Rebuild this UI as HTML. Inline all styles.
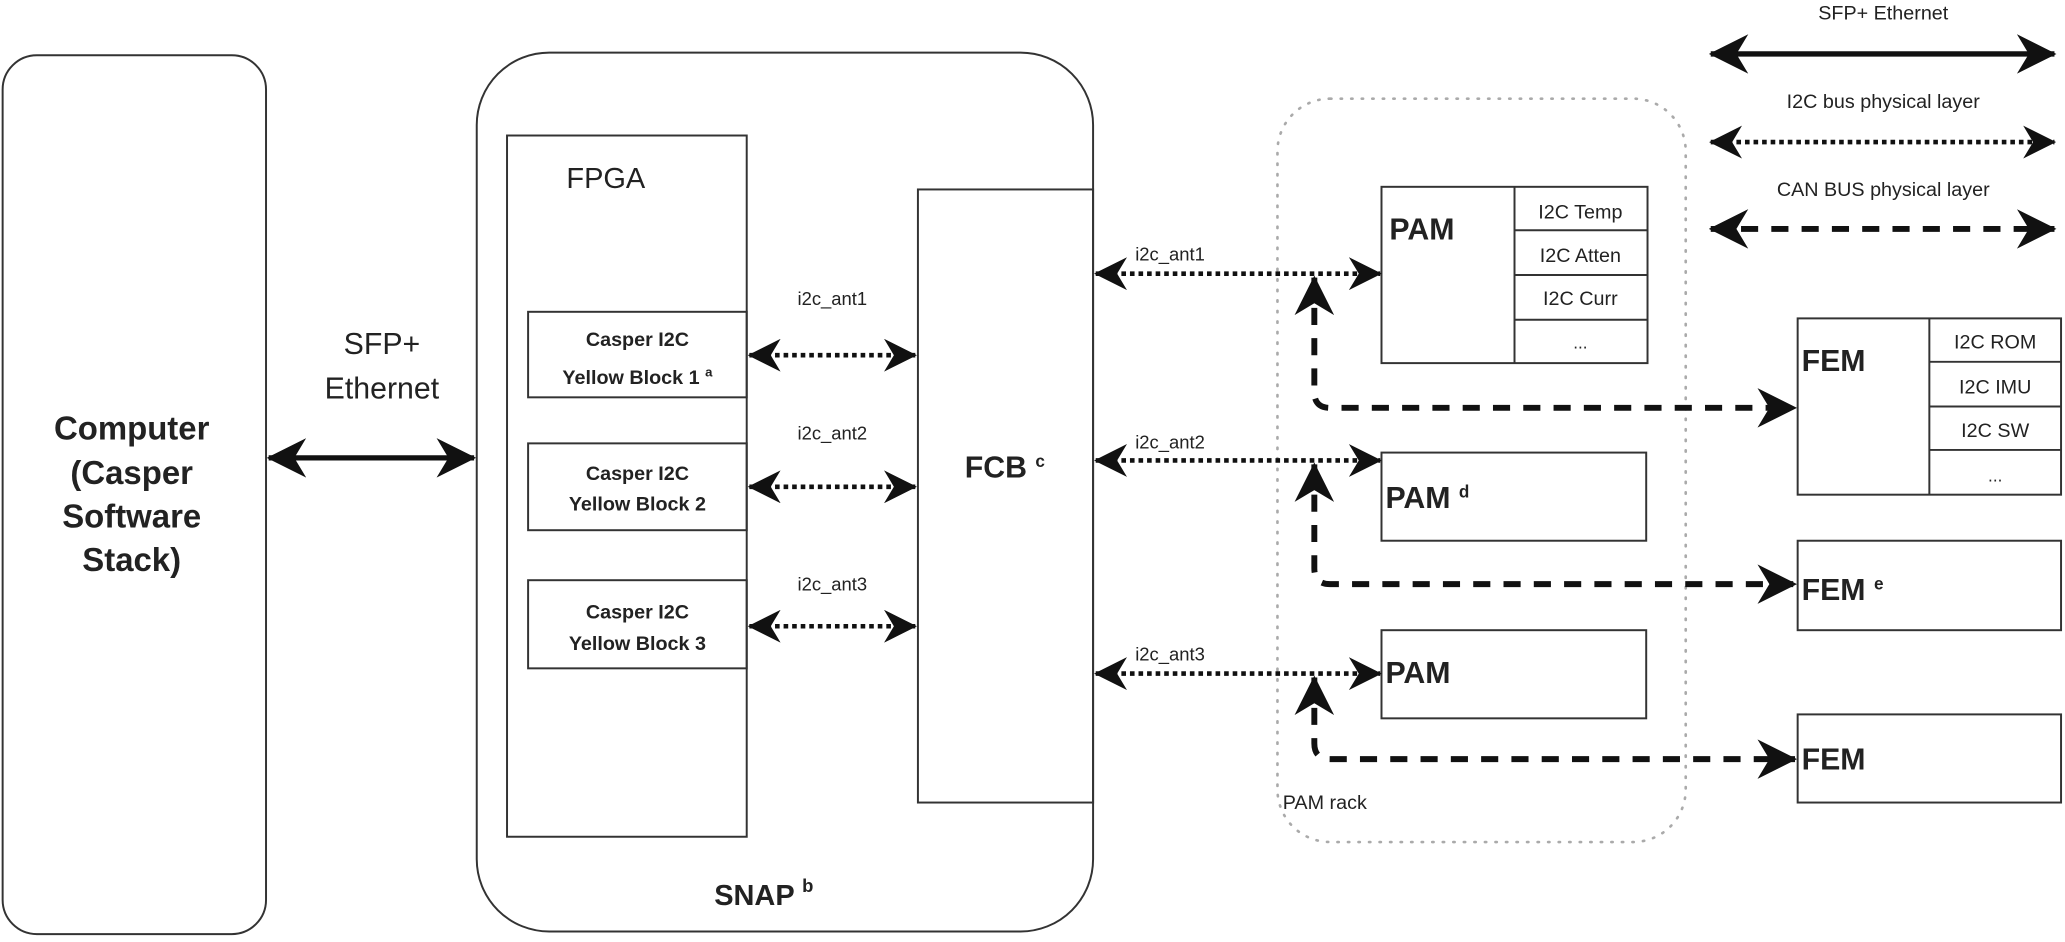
<!DOCTYPE html>
<html><head><meta charset="utf-8"><style>
html,body{margin:0;padding:0;background:#fff;}
svg{display:block;}
text{font-family:"Liberation Sans",Arial,sans-serif;fill:#222;}
</style></head><body>
<svg width="2065" height="942" viewBox="0 0 1568 716" preserveAspectRatio="none" xmlns="http://www.w3.org/2000/svg">
<defs>
<marker id="b" viewBox="0 0 10 10" refX="9.5" refY="5" markerWidth="30" markerHeight="30" orient="auto-start-reverse" markerUnits="userSpaceOnUse">
<path d="M0,0 L10,5 L0,10 L3,5 z" fill="#111"/>
</marker>
<marker id="d" viewBox="0 0 10 10" refX="9.5" refY="5" markerWidth="25" markerHeight="25" orient="auto-start-reverse" markerUnits="userSpaceOnUse">
<path d="M0,0 L10,5 L0,10 L3,5 z" fill="#111"/>
</marker>
</defs>
<g fill="none" stroke="#333" stroke-width="1.5">
<rect x="2" y="42" width="200" height="668" rx="26"/>
<rect x="362" y="40" width="468" height="668" rx="55"/>
<rect x="385" y="103" width="182" height="533"/>
<rect x="401" y="237" width="166" height="65"/>
<rect x="401" y="337" width="166" height="66"/>
<rect x="401" y="441" width="166" height="67"/>
<rect x="697" y="144" width="133" height="466"/>
<rect x="1049" y="142" width="202" height="134"/>
<line x1="1150" y1="142" x2="1150" y2="276"/>
<line x1="1150" y1="175" x2="1251" y2="175"/>
<line x1="1150" y1="209" x2="1251" y2="209"/>
<line x1="1150" y1="243" x2="1251" y2="243"/>
<rect x="1049" y="344" width="201" height="67"/>
<rect x="1049" y="479" width="201" height="67"/>
<rect x="1365" y="242" width="200" height="134"/>
<line x1="1465" y1="242" x2="1465" y2="376"/>
<line x1="1465" y1="275" x2="1565" y2="275"/>
<line x1="1465" y1="309" x2="1565" y2="309"/>
<line x1="1465" y1="342" x2="1565" y2="342"/>
<rect x="1365" y="411" width="200" height="68"/>
<rect x="1365" y="543" width="200" height="67"/>
</g>
<rect x="970" y="75" width="310" height="565" rx="40" fill="none" stroke="#aaa" stroke-width="2" stroke-dasharray="1 7" stroke-linecap="round"/>
<g stroke="#111" fill="none">
<line x1="204" y1="348" x2="360" y2="348" stroke-width="4" marker-start="url(#b)" marker-end="url(#b)"/>
<line x1="1299" y1="41" x2="1560" y2="41" stroke-width="4" marker-start="url(#b)" marker-end="url(#b)"/>
<g stroke-width="3.5" stroke-dasharray="3.5 3">
<line x1="569" y1="270" x2="695" y2="270" marker-start="url(#d)" marker-end="url(#d)"/>
<line x1="569" y1="370" x2="695" y2="370" marker-start="url(#d)" marker-end="url(#d)"/>
<line x1="569" y1="476" x2="695" y2="476" marker-start="url(#d)" marker-end="url(#d)"/>
<line x1="832" y1="208" x2="1048" y2="208" marker-start="url(#d)" marker-end="url(#d)"/>
<line x1="832" y1="350" x2="1048" y2="350" marker-start="url(#d)" marker-end="url(#d)"/>
<line x1="832" y1="512" x2="1048" y2="512" marker-start="url(#d)" marker-end="url(#d)"/>
<line x1="1299" y1="108" x2="1560" y2="108" marker-start="url(#d)" marker-end="url(#d)"/>
</g>
<g stroke-width="4.5" stroke-dasharray="13 10">
<path d="M998,211 L998,298 Q998,310 1010,310 L1363,310" marker-start="url(#b)" marker-end="url(#b)"/>
<path d="M998,353 L998,432 Q998,444 1010,444 L1363,444" marker-start="url(#b)" marker-end="url(#b)"/>
<path d="M998,515 L998,565 Q998,577 1010,577 L1363,577" marker-start="url(#b)" marker-end="url(#b)"/>
<line x1="1299" y1="174" x2="1560" y2="174" marker-start="url(#b)" marker-end="url(#b)"/>
</g>
</g>
<g text-anchor="middle">
<text x="100" y="334" font-size="25" font-weight="bold">Computer</text>
<text x="100" y="368" font-size="25" font-weight="bold">(Casper</text>
<text x="100" y="401" font-size="25" font-weight="bold">Software</text>
<text x="100" y="434" font-size="25" font-weight="bold">Stack)</text>
<text x="290" y="269" font-size="23">SFP+</text>
<text x="290" y="303" font-size="23">Ethernet</text>
<text x="460" y="143" font-size="22">FPGA</text>
<text x="580" y="688" font-size="22" font-weight="bold">SNAP <tspan font-size="14" dy="-10">b</tspan></text>
<text x="484" y="263" font-size="15" font-weight="bold">Casper I2C</text>
<text x="484" y="292" font-size="15" font-weight="bold">Yellow Block 1 <tspan font-size="10" dy="-6">a</tspan></text>
<text x="484" y="365" font-size="15" font-weight="bold">Casper I2C</text>
<text x="484" y="388" font-size="15" font-weight="bold">Yellow Block 2</text>
<text x="484" y="470" font-size="15" font-weight="bold">Casper I2C</text>
<text x="484" y="494" font-size="15" font-weight="bold">Yellow Block 3</text>
<text x="632" y="232" font-size="14">i2c_ant1</text>
<text x="632" y="334" font-size="14">i2c_ant2</text>
<text x="632" y="449" font-size="14">i2c_ant3</text>
<text x="763" y="363" font-size="23" font-weight="bold">FCB <tspan font-size="13" dy="-8">c</tspan></text>
<text x="1200" y="166" font-size="15">I2C Temp</text>
<text x="1200" y="199" font-size="15">I2C Atten</text>
<text x="1200" y="232" font-size="15">I2C Curr</text>
<text x="1200" y="265" font-size="13">...</text>
<text x="1515" y="265" font-size="15">I2C ROM</text>
<text x="1515" y="299" font-size="15">I2C IMU</text>
<text x="1515" y="332" font-size="15">I2C  SW</text>
<text x="1515" y="366" font-size="13">...</text>
<text x="1430" y="15" font-size="15">SFP+ Ethernet</text>
<text x="1430" y="82" font-size="15">I2C bus physical layer</text>
<text x="1430" y="149" font-size="15">CAN BUS physical layer</text>
</g>
<g font-size="14">
<text x="862" y="198">i2c_ant1</text>
<text x="862" y="341">i2c_ant2</text>
<text x="862" y="502">i2c_ant3</text>
<text x="974" y="615" font-size="15">PAM rack</text>
</g>
<g font-size="23" font-weight="bold">
<text x="1055" y="182">PAM</text>
<text x="1052" y="386">PAM <tspan font-size="13" dy="-8">d</tspan></text>
<text x="1052" y="519">PAM</text>
<text x="1368" y="282">FEM</text>
<text x="1368" y="456">FEM <tspan font-size="13" dy="-8">e</tspan></text>
<text x="1368" y="585">FEM</text>
</g>
</svg>
</body></html>
